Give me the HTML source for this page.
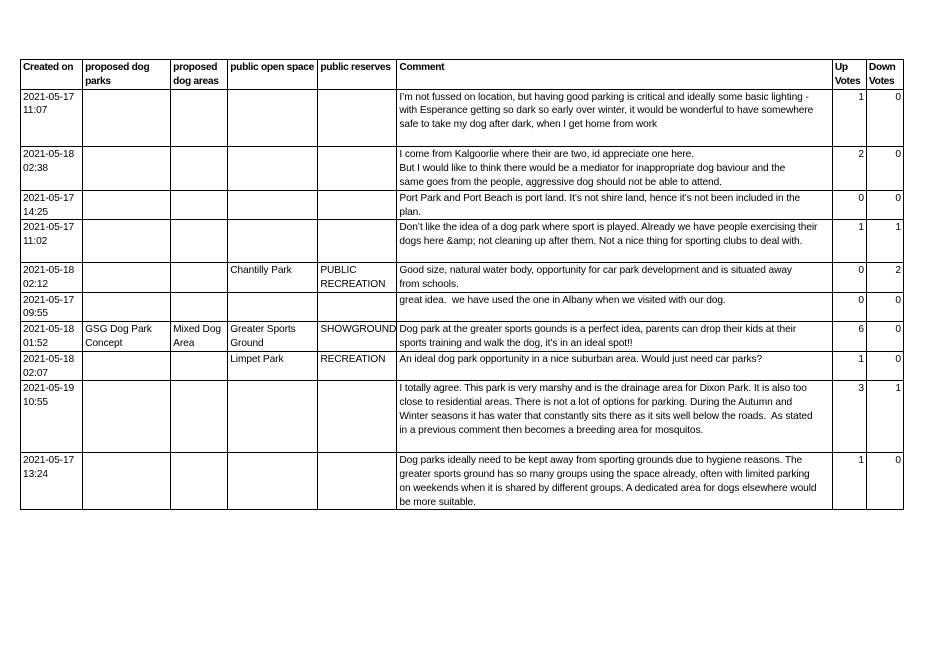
<!DOCTYPE html>
<html><head><meta charset="utf-8"><style>
html,body{margin:0;padding:0;background:#fff;width:929px;height:657px;overflow:hidden}
table{position:absolute;left:20px;top:59px;border-collapse:collapse;table-layout:fixed;width:884px}
td{border:1px solid #000;vertical-align:top;padding:1px 1px 0 2px;font-family:"Liberation Sans",sans-serif;font-size:10.2px;line-height:13.8px;letter-spacing:-0.1px;color:#000;white-space:nowrap;overflow:hidden}
tr.h td{font-weight:bold;letter-spacing:-0.3px}
td.n{text-align:right;padding-right:2px}
</style></head><body>
<table>
<colgroup><col style="width:62px"><col style="width:88px"><col style="width:57px"><col style="width:90px"><col style="width:79px"><col style="width:435px"><col style="width:34px"><col style="width:37px"></colgroup>
<tr class="h" style="height:27.4px"><td>Created on</td><td>proposed dog<br>parks</td><td>proposed<br>dog areas</td><td>public open space</td><td>public reserves</td><td>Comment</td><td>Up<br>Votes</td><td>Down<br>Votes</td></tr>
<tr style="height:57.8px"><td>2021-05-17<br>11:07</td><td></td><td></td><td></td><td></td><td>I’m not fussed on location, but having good parking is critical and ideally some basic lighting -<br>with Esperance getting so dark so early over winter, it would be wonderful to have somewhere<br>safe to take my dog after dark, when I get home from work</td><td class="n">1</td><td class="n">0</td></tr>
<tr style="height:42px"><td>2021-05-18<br>02:38</td><td></td><td></td><td></td><td></td><td>I come from Kalgoorlie where their are two, id appreciate one here.<br>But I would like to think there would be a mediator for inappropriate dog baviour and the<br>same goes from the people, aggressive dog should not be able to attend.</td><td class="n">2</td><td class="n">0</td></tr>
<tr style="height:27.8px"><td>2021-05-17<br>14:25</td><td></td><td></td><td></td><td></td><td>Port Park and Port Beach is port land. It’s not shire land, hence it’s not been included in the<br>plan.</td><td class="n">0</td><td class="n">0</td></tr>
<tr style="height:42.7px"><td>2021-05-17<br>11:02</td><td></td><td></td><td></td><td></td><td>Don’t like the idea of a dog park where sport is played. Already we have people exercising their<br>dogs here &amp;amp; not cleaning up after them. Not a nice thing for sporting clubs to deal with.</td><td class="n">1</td><td class="n">1</td></tr>
<tr style="height:28.2px"><td>2021-05-18<br>02:12</td><td></td><td></td><td>Chantilly Park</td><td>PUBLIC<br>RECREATION</td><td>Good size, natural water body, opportunity for car park development and is situated away<br>from schools.</td><td class="n">0</td><td class="n">2</td></tr>
<tr style="height:29.3px"><td>2021-05-17<br>09:55</td><td></td><td></td><td></td><td></td><td>great idea.&nbsp; we have used the one in Albany when we visited with our dog.</td><td class="n">0</td><td class="n">0</td></tr>
<tr style="height:29.4px"><td>2021-05-18<br>01:52</td><td>GSG Dog Park<br>Concept</td><td>Mixed Dog<br>Area</td><td>Greater Sports<br>Ground</td><td>SHOWGROUND</td><td>Dog park at the greater sports gounds is a perfect idea, parents can drop their kids at their<br>sports training and walk the dog, it’s in an ideal spot!!</td><td class="n">6</td><td class="n">0</td></tr>
<tr style="height:28.8px"><td>2021-05-18<br>02:07</td><td></td><td></td><td>Limpet Park</td><td>RECREATION</td><td>An ideal dog park opportunity in a nice suburban area. Would just need car parks?</td><td class="n">1</td><td class="n">0</td></tr>
<tr style="height:71.7px"><td>2021-05-19<br>10:55</td><td></td><td></td><td></td><td></td><td>I totally agree. This park is very marshy and is the drainage area for Dixon Park. It is also too<br>close to residential areas. There is not a lot of options for parking. During the Autumn and<br>Winter seasons it has water that constantly sits there as it sits well below the roads.&nbsp; As stated<br>in a previous comment then becomes a breeding area for mosquitos.</td><td class="n">3</td><td class="n">1</td></tr>
<tr style="height:56.1px"><td>2021-05-17<br>13:24</td><td></td><td></td><td></td><td></td><td>Dog parks ideally need to be kept away from sporting grounds due to hygiene reasons. The<br>greater sports ground has so many groups using the space already, often with limited parking<br>on weekends when it is shared by different groups. A dedicated area for dogs elsewhere would<br>be more suitable.</td><td class="n">1</td><td class="n">0</td></tr>
</table>
</body></html>
